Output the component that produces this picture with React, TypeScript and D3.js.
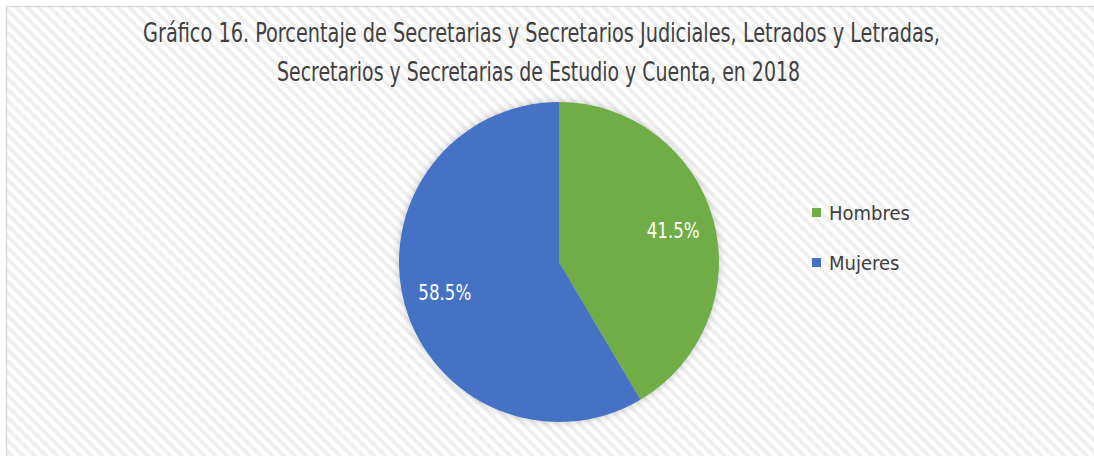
import React from 'react'
import * as d3 from 'd3'

const W = 1094
const H = 456

const categories = ['Hombres', 'Mujeres']
const values = [41.5, 58.5]
const colors = ['#70ad47', '#4472c4']
const titleLines = [
  'Gráfico 16. Porcentaje de Secretarias y Secretarios Judiciales, Letrados y Letradas,',
  'Secretarios y Secretarias de Estudio y Cuenta, en 2018'
]

const FONT = "'Liberation Sans Narrow', 'DejaVu Sans Condensed', 'Roboto', sans-serif"

export default function App () {
  const cx = 559
  const cy = 262
  const r = 160

  const pie = d3.pie<number>().sort(null).value(d => d)
  const arcs = pie(values)
  const arc = d3.arc<d3.PieArcDatum<number>>().innerRadius(0).outerRadius(r)
  const labelArc = d3.arc<d3.PieArcDatum<number>>().innerRadius(r * 0.74).outerRadius(r * 0.74)

  const legendY = d3.scaleBand<string>().domain(categories).range([187.5, 287.5]).paddingInner(0)

  return (
    <div style={{ position: 'absolute', left: 0, top: 0 }}>
      <svg width={W} height={H} viewBox={`0 0 ${W} ${H}`} style={{ display: 'block' }}>
        <defs>
          <pattern id='stripes' width='8' height='8' patternUnits='userSpaceOnUse' patternTransform='rotate(45)'>
            <rect width='8' height='8' fill='#ffffff' />
            <rect width='8' height='3.5' fill='#eeeeee' />
          </pattern>
          <filter id='shadow' x='-20%' y='-20%' width='140%' height='140%'>
            <feDropShadow dx='0' dy='0' stdDeviation='4' floodColor='#000' floodOpacity='0.22' />
          </filter>
        </defs>
        <rect x={0} y={0} width={W} height={H} fill='#fff' />
        <rect x={6.5} y={6.5} width={W + 10} height={H + 10} fill='url(#stripes)' stroke='#d9d9d9' strokeWidth={1.5} />

        {titleLines.map((t, i) => (
          <text
            key={i}
            x={i === 0 ? 143 : 277}
            y={i === 0 ? 42 : 81}
            textLength={i === 0 ? 797 : 523}
            lengthAdjust='spacingAndGlyphs'
            fontFamily={FONT}
            fontSize={26}
            fill='#404040'
          >
            {t}
          </text>
        ))}

        <g transform={`translate(${cx},${cy})`}>
          <g filter='url(#shadow)'>
            {arcs.map((a, i) => (
              <path key={i} d={arc(a) || ''} fill={colors[i]} />
            ))}
          </g>
          {arcs.map((a, i) => {
            const [lx, ly] = labelArc.centroid(a)
            const label = `${d3.format('.1f')(a.data)}%`
            return (
              <text
                key={i}
                x={lx}
                y={ly + 7}
                textAnchor='middle'
                textLength={53}
                lengthAdjust='spacingAndGlyphs'
                fontFamily={FONT}
                fontSize={21}
                fill='#ffffff'
              >
                {label}
              </text>
            )
          })}
        </g>

        {categories.map((c, i) => {
          const y = legendY(c)! + legendY.bandwidth() / 2
          return (
            <g key={c}>
              <rect x={812} y={y - 4.5} width={9} height={9} fill={colors[i]} />
              <text x={829} y={y + 7} fontFamily={FONT} fontSize={20} fill='#404040'>{c}</text>
            </g>
          )
        })}
      </svg>
    </div>
  )
}
